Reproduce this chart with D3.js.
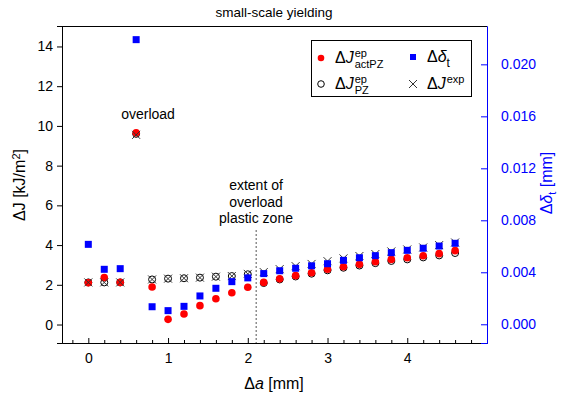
<!DOCTYPE html>
<meta charset="utf-8">
<style>
body { margin: 0; background: #fff; }
svg { font-family: "Liberation Sans", Arial, sans-serif; }
.tick text { font-size: 14px; }
</style>
<svg width="565" height="399"></svg>
<script src="https://cdn.jsdelivr.net/npm/d3@7"></script>
<script>

// crack extension steps [mm]
var da = [0, 0.2, 0.4, 0.6, 0.8, 1.0, 1.2, 1.4, 1.6, 1.8, 2.0, 2.2, 2.4, 2.6, 2.8, 3.0, 3.2, 3.4, 3.6, 3.8, 4.0, 4.2, 4.4, 4.6];

// ΔJ values [kJ/m²]
var jActPZ = [2.10, 2.36, 2.12, 9.65, 1.89, 0.26, 0.53, 0.95, 1.30, 1.60, 1.88, 2.12, 2.30, 2.46, 2.61, 2.78, 2.91, 3.03, 3.16, 3.28, 3.36, 3.46, 3.57, 3.72];
var jPZ    = [2.12, 2.12, 2.12, 9.60, 2.27, 2.31, 2.33, 2.36, 2.41, 2.44, 2.53, 2.09, 2.27, 2.42, 2.56, 2.73, 2.86, 2.97, 3.09, 3.20, 3.28, 3.38, 3.48, 3.60];
var jExp   = [2.12, 2.12, 2.12, 9.55, 2.27, 2.31, 2.33, 2.36, 2.41, 2.44, 2.55, 2.64, 2.79, 2.94, 3.05, 3.19, 3.33, 3.45, 3.55, 3.68, 3.78, 3.88, 4.00, 4.13];

// Δδt values [mm]
var deltaT = [0.00615, 0.00423, 0.00428, 0.0219, 0.00135, 0.00105, 0.00138, 0.00218, 0.00277, 0.00328, 0.00357, 0.00390, 0.00412, 0.00431, 0.00450, 0.00466, 0.00492, 0.00512, 0.00528, 0.00551, 0.00569, 0.00585, 0.00602, 0.00623];

var xTicks = [0, 1, 2, 3, 4];
var yTicks = [0, 2, 4, 6, 8, 10, 12, 14];
var y2Ticks = [0, 0.004, 0.008, 0.012, 0.016, 0.020];
var plasticZoneExtent = 2.105;

var svg = d3.select("svg"),
    pLeft = 62, pRight = 487, pTop = 26, pBottom = 343,
    blue = "#0000ff";

var x = d3.scaleLinear().domain([-0.33, 5.0]).range([pLeft, pRight]);
var y = d3.scaleLinear().domain([-0.93, 15.03]).range([pBottom, pTop]);
var y2 = d3.scaleLinear().domain([-0.00144, 0.02295]).range([pBottom, pTop]);

// axes
var xAxis = svg.append("g")
    .attr("transform", "translate(0," + pBottom + ")")
    .call(d3.axisBottom(x).tickValues(xTicks).tickSize(-5).tickPadding(10).tickFormat(d3.format("d")));
var xMinor = svg.append("g")
    .attr("transform", "translate(0," + pBottom + ")")
    .call(d3.axisBottom(x).tickValues(d3.range(-0.2, 5.0, 0.2).filter(function(v) { return Math.abs(v - Math.round(v)) > 0.01; })).tickSize(-3).tickFormat(""));
xMinor.select(".domain").remove();

var yAxis = svg.append("g")
    .attr("transform", "translate(" + pLeft + ",0)")
    .call(d3.axisLeft(y).tickValues(yTicks).tickSize(5).tickPadding(4));

var y2Axis = svg.append("g")
    .attr("transform", "translate(" + pRight + ",0)")
    .call(d3.axisRight(y2).tickValues(y2Ticks).tickSize(-6).tickPadding(14).tickFormat(d3.format(".3f")));

[xAxis, xMinor, yAxis].forEach(function(a) {
  a.selectAll("line,.domain").attr("stroke", "#000");
  a.selectAll("text").attr("fill", "#000");
});
y2Axis.selectAll("line,.domain").attr("stroke", blue);
y2Axis.selectAll("text").attr("fill", blue);

// top frame line
svg.append("line")
    .attr("x1", pLeft).attr("x2", pRight)
    .attr("y1", pTop + 0.5).attr("y2", pTop + 0.5)
    .attr("stroke", "#000");

// title and axis labels
svg.append("text")
    .attr("x", 274).attr("y", 17)
    .attr("text-anchor", "middle")
    .style("font-size", "13.5px")
    .text("small-scale yielding");

var xl = svg.append("text")
    .attr("x", 274).attr("y", 389)
    .attr("text-anchor", "middle")
    .style("font-size", "16px");
xl.append("tspan").text("Δ");
xl.append("tspan").style("font-style", "italic").text("a");
xl.append("tspan").text(" [mm]");

var yl = svg.append("text")
    .attr("transform", "translate(25,185) rotate(-90)")
    .attr("text-anchor", "middle")
    .style("font-size", "16px");
yl.append("tspan").text("ΔJ [kJ/m");
yl.append("tspan").attr("dy", -5).style("font-size", "11px").text("2");
yl.append("tspan").attr("dy", 5).text("]");

var y2l = svg.append("text")
    .attr("transform", "translate(552,183) rotate(-90)")
    .attr("text-anchor", "middle")
    .attr("fill", blue)
    .style("font-size", "16px");
y2l.append("tspan").text("Δ");
y2l.append("tspan").style("font-style", "italic").text("δ");
y2l.append("tspan").attr("dy", 4).style("font-size", "11px").text("t");
y2l.append("tspan").attr("dy", -4).text(" [mm]");

// annotations
svg.append("text")
    .attr("x", 148).attr("y", 119)
    .attr("text-anchor", "middle")
    .style("font-size", "14px")
    .text("overload");

var ann = svg.append("text")
    .attr("text-anchor", "middle")
    .style("font-size", "14px");
["extent of", "overload", "plastic zone"].forEach(function(s, i) {
  ann.append("tspan").attr("x", 256).attr("y", 190 + i * 16.5).text(s);
});

svg.append("line")
    .attr("x1", x(plasticZoneExtent)).attr("x2", x(plasticZoneExtent))
    .attr("y1", 230).attr("y2", pBottom)
    .attr("stroke", "#555")
    .attr("stroke-dasharray", "2,2");

// data marks
var idx = d3.range(da.length);

svg.append("g").selectAll("circle")
    .data(idx).enter().append("circle")
    .attr("cx", function(i) { return x(da[i]); })
    .attr("cy", function(i) { return y(jPZ[i]); })
    .attr("r", 3.5)
    .attr("fill", "#fff")
    .attr("stroke", "#000");

svg.append("g").selectAll("circle")
    .data(idx).enter().append("circle")
    .attr("cx", function(i) { return x(da[i]); })
    .attr("cy", function(i) { return y(jActPZ[i]); })
    .attr("r", 3.8)
    .attr("fill", "#ff0000");

svg.append("g").selectAll("path")
    .data(idx).enter().append("path")
    .attr("transform", function(i) { return "translate(" + x(da[i]) + "," + y(jExp[i]) + ")"; })
    .attr("d", "M-4,-4L4,4M-4,4L4,-4")
    .attr("stroke", "#333")
    .attr("stroke-width", 1);

svg.append("g").selectAll("rect")
    .data(idx).enter().append("rect")
    .attr("x", function(i) { return x(da[i]) - 3.5; })
    .attr("y", function(i) { return y2(deltaT[i]) - 3.5; })
    .attr("width", 7).attr("height", 7)
    .attr("fill", blue);

// legend
var lg = svg.append("g");
lg.append("rect")
    .attr("x", 311.5).attr("y", 40.5)
    .attr("width", 160).attr("height", 56)
    .attr("fill", "#fff")
    .attr("stroke", "#000");

function jLabel(px, py, sup, sub) {
  var t = lg.append("text").attr("x", px).attr("y", py).style("font-size", "16px");
  t.append("tspan").text("Δ");
  t.append("tspan").style("font-style", "italic").text("J");
  var w = t.node().getComputedTextLength();
  lg.append("text").attr("x", px + w + 1).attr("y", py - 6).style("font-size", "11px").text(sup);
  if (sub) lg.append("text").attr("x", px + w + 1).attr("y", py + 5).style("font-size", "11px").text(sub);
}

lg.append("circle").attr("cx", 321).attr("cy", 58).attr("r", 3.3).attr("fill", "#ff0000");
jLabel(335, 63, "ep", "actPZ");
lg.append("circle").attr("cx", 321).attr("cy", 84).attr("r", 3.3).attr("fill", "#fff").attr("stroke", "#000");
jLabel(335, 89, "ep", "PZ");

lg.append("rect").attr("x", 410).attr("y", 54).attr("width", 6).attr("height", 6).attr("fill", blue);
var dt = lg.append("text").attr("x", 427).attr("y", 62).style("font-size", "16px");
dt.append("tspan").text("Δ");
dt.append("tspan").style("font-style", "italic").text("δ");
dt.append("tspan").attr("dy", 5).style("font-size", "12px").text("t");

lg.append("path").attr("d", "M409,80L417,88M409,88L417,80").attr("stroke", "#333");
jLabel(427, 89, "exp", null);

</script>
